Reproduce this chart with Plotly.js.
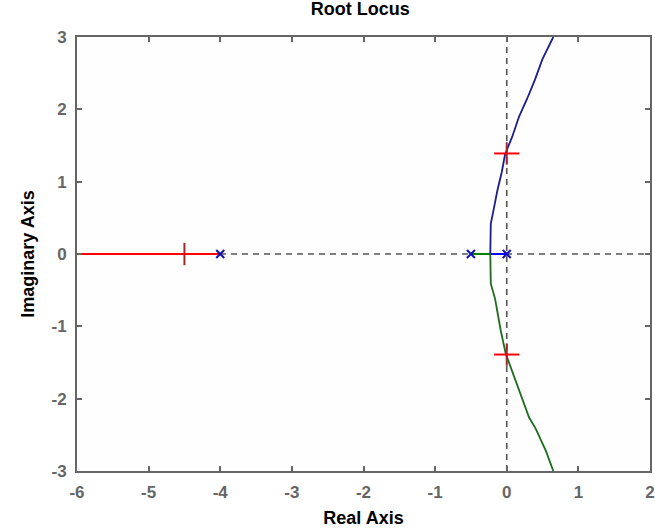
<!DOCTYPE html>
<html>
<head>
<meta charset="utf-8">
<script src="https://cdn.plot.ly/plotly-3.0.1.min.js"></script>
<style>
  html, body { margin: 0; padding: 0; background: #ffffff; }
  #plot { width: 655px; height: 530px; }
</style>
</head>
<body>
<div id="plot"></div>
<script>
// Open-loop poles
const poleRe = [-4, -0.5, 0];
const poleIm = [0, 0, 0];

// Branch leaving the pole at -4 along the negative real axis
const redRe = [-4, -6];
const redIm = [0, 0];

// Branch leaving the pole at 0: real-axis part, then upper half plane
const blueAxisRe = [0, -0.23];
const blueAxisIm = [0, 0];
const blueRe = [-0.23, -0.223, -0.19, -0.131, -0.07, -0.024, 0.078, 0.172, 0.286, 0.394, 0.497, 0.65];
const blueIm = [0, 0.418, 0.578, 0.878, 1.13, 1.376, 1.625, 1.90, 2.15, 2.41, 2.69, 3.0];

// Branch leaving the pole at -0.5: real-axis part, then lower half plane
const greenAxisRe = [-0.5, -0.23];
const greenAxisIm = [0, 0];
const greenRe = [-0.23, -0.223, -0.163, -0.084, -0.014, 0.078, 0.195, 0.311, 0.405, 0.545, 0.65];
const greenIm = [0, -0.41, -0.62, -1.058, -1.38, -1.635, -1.934, -2.257, -2.418, -2.718, -3.0];

// Closed-loop roots at the selected gain
const gainRe = [-4.5, 0, 0];
const gainIm = [0, 1.39, -1.39];

// Axis ticks
const xTicks = [-6, -5, -4, -3, -2, -1, 0, 1, 2];
const yTicks = [-3, -2, -1, 0, 1, 2, 3];

const traces = [
  { x: redRe, y: redIm, mode: 'lines', line: { color: '#ff0000', width: 2 }, hoverinfo: 'skip' },
  { x: blueAxisRe, y: blueAxisIm, mode: 'lines', line: { color: '#0000ff', width: 2 }, hoverinfo: 'skip' },
  { x: blueRe, y: blueIm, mode: 'lines', line: { color: '#1c1c8e', width: 1.8 }, hoverinfo: 'skip' },
  { x: greenAxisRe, y: greenAxisIm, mode: 'lines', line: { color: '#008000', width: 2 }, hoverinfo: 'skip' },
  { x: greenRe, y: greenIm, mode: 'lines', line: { color: '#1e6b1e', width: 1.8 }, hoverinfo: 'skip' },
  { x: poleRe, y: poleIm, mode: 'markers',
    marker: { symbol: 'x-thin', size: 8, line: { color: '#1010b0', width: 2 } }, hoverinfo: 'skip' },
  { x: gainRe, y: gainIm, mode: 'markers',
    marker: { symbol: 'line-ns', size: 16, line: { color: '#a02828', width: 2 } }, hoverinfo: 'skip' },
  { x: gainRe, y: gainIm, mode: 'markers',
    marker: { symbol: 'line-ew', size: 18, line: { color: '#ff0000', width: 2 } }, hoverinfo: 'skip' }
];

const tickFont = { family: 'Liberation Sans, Arial, sans-serif', size: 17, color: '#666666', weight: 'bold' };
const labelFont = { family: 'Liberation Sans, Arial, sans-serif', size: 18, color: '#000000', weight: 'bold' };

const layout = {
  width: 655,
  height: 530,
  margin: { l: 77, r: 5, t: 37, b: 59 },
  paper_bgcolor: '#ffffff',
  plot_bgcolor: '#fefefe',
  showlegend: false,
  title: { text: 'Root Locus', font: labelFont, x: 0.55, xanchor: 'center', y: 0.995, yanchor: 'top' },
  xaxis: {
    range: [-6, 2],
    tickvals: xTicks,
    ticktext: xTicks.map(String),
    ticks: 'inside', ticklen: 5, tickwidth: 2, tickcolor: '#666666',
    showline: true, linecolor: '#666666', linewidth: 2, mirror: 'ticks',
    showgrid: false, zeroline: false,
    tickfont: tickFont,
    ticklabelstandoff: 5,
    title: { text: 'Real Axis', font: labelFont, standoff: 10 }
  },
  yaxis: {
    range: [-3, 3],
    tickvals: yTicks,
    ticktext: yTicks.map(String),
    ticks: 'inside', ticklen: 5, tickwidth: 2, tickcolor: '#666666',
    showline: true, linecolor: '#666666', linewidth: 2, mirror: 'ticks',
    showgrid: false, zeroline: false,
    tickfont: tickFont,
    ticklabelstandoff: 5,
    title: { text: 'Imaginary Axis', font: labelFont, standoff: 12 }
  },
  shapes: [
    { type: 'line', xref: 'paper', yref: 'y', x0: 0, x1: 1, y0: 0, y1: 0,
      line: { color: '#555555', width: 1.6, dash: '6px,5px' }, layer: 'below' },
    { type: 'line', xref: 'x', yref: 'paper', x0: 0, x1: 0, y0: 0, y1: 1,
      line: { color: '#555555', width: 1.6, dash: '6px,5px' }, layer: 'below' }
  ]
};

Plotly.newPlot('plot', traces, layout, { displayModeBar: false, staticPlot: true });
</script>
</body>
</html>
